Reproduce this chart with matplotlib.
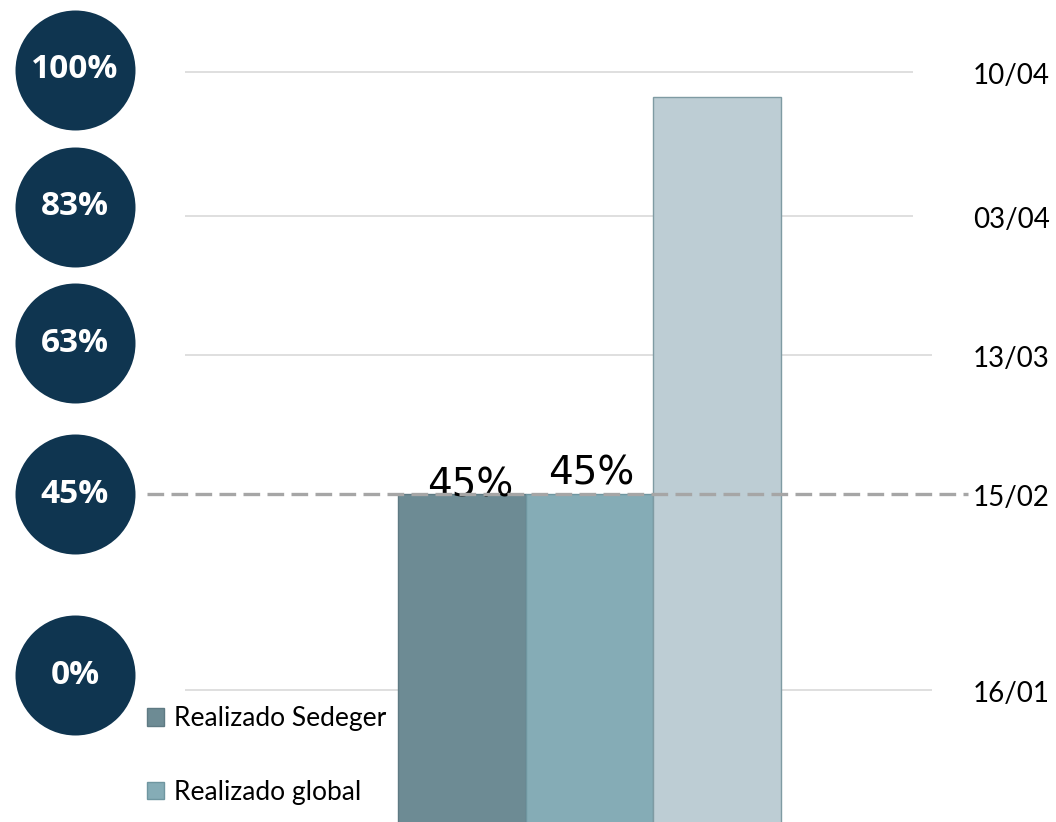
import numpy as np
import matplotlib
matplotlib.use("Agg")
import matplotlib.pyplot as plt

# milestone gridlines (percent of progress) and their dates
milestone_pct = [0, 45, 63, 83, 100]
milestone_labels = ["0%", "45%", "63%", "83%", "100%"]
milestone_dates = ["16/01", "15/02", "13/03", "03/04", "10/04"]

# bars
series = ["Realizado Sedeger", "Realizado global", "Previsto"]
bar_values = [45, 45, 97]
bar_labels = ["45%", "45%", None]
bar_colors = ["#6D8B94", "#85ACB6", "#BDCDD4"]
bar_edges = ["#5E7A83", "#6F96A0", "#7F9BA3"]

# the milestones are not evenly spread: piecewise-linear value axis
knots_pct = [-100, 0, 45, 63, 83, 100, 200]
knots_pos = [-435.6, 0, 196, 335, 474, 618, 1465]


def forward(v):
    return np.interp(v, knots_pct, knots_pos)


def inverse(p):
    return np.interp(p, knots_pos, knots_pct)


plt.rcParams['font.family'] = ['Lato', 'DejaVu Sans']

fig = plt.figure(figsize=(10.56, 8.22), dpi=100)
ax = fig.add_axes([0, 0, 1, 1])
ax.set_yscale('function', functions=(forward, inverse))
ax.set_xlim(-3.617, 4.652)
ax.set_ylim(-30.3, 108.5)
ax.axis('off')

# gridlines
grid_ext = {0: 3.68, 45: 3.68, 63: 3.68, 83: 3.53, 100: 3.53}
for p in milestone_pct:
    if p == 45:
        continue
    ax.hlines(p, -2.168, grid_ext[p], color='#D9D9D9', lw=1.2, zorder=1)

# bars
x = np.arange(len(bar_values))
base = -60
label_shift = [(8, -10), (2, 2), (0, 0)]  # pixels
for i, v in enumerate(bar_values):
    lab = series[i] if i < 2 else None
    ax.bar(x[i], v - base, bottom=base, width=1.0, color=bar_colors[i],
           edgecolor=bar_edges[i], linewidth=1.0, label=lab, zorder=2)
    if bar_labels[i]:
        ax.annotate(bar_labels[i], (x[i], v), xytext=label_shift[i],
                    textcoords='offset pixels', ha='center', va='bottom',
                    fontsize=28, family='DejaVu Sans', color='black', zorder=2.5)

# dashed 45% line
ax.hlines(45, -2.466, 3.96, color='#A6A6A6', lw=2.4, linestyles=(0, (5, 2.2)), zorder=3)

# circle badges on the left (slightly raised above their gridline)
badge_shift = [15, 0, 12, 9, 2]  # pixels
badge_y = inverse(forward(np.array(milestone_pct, float)) + np.array(badge_shift))
ax.scatter([-3.03] * len(milestone_pct), badge_y, s=7465, color='#0F3550',
           zorder=5, clip_on=False, linewidths=0)
for yy, lab in zip(badge_y, milestone_labels):
    ax.text(-3.03, yy, lab, ha='center', va='center', color='white',
            fontsize=24, fontweight='bold', family='Open Sans', zorder=6)

# dates on the right
for p, d in zip(milestone_pct, milestone_dates):
    ax.annotate(d, (4.0, p), xytext=(0, -4), textcoords='offset pixels',
                ha='left', va='center', fontsize=20, color='black')

ax.legend(loc='lower left', bbox_to_anchor=(134 / 1056, 4 / 822), frameon=False,
          fontsize=19, handlelength=0.65, handleheight=0.65, handletextpad=0.35,
          labelspacing=1.85, borderpad=0)

fig.savefig('out.png', dpi=100)
